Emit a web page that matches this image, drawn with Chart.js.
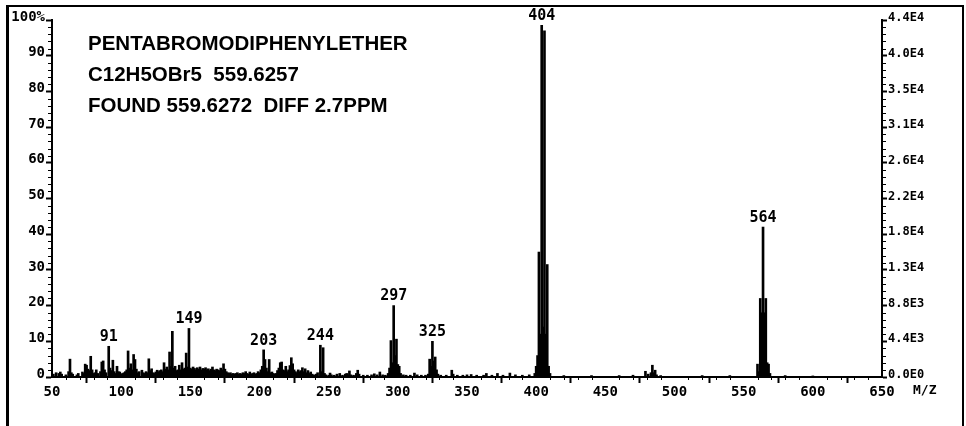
<!DOCTYPE html>
<html>
<head>
<meta charset="utf-8">
<script src="https://cdn.jsdelivr.net/npm/chart.js@4.4.0/dist/chart.umd.min.js"></script>
<style>
  body { margin: 0; background: #fff; }
</style>
</head>
<body>
<canvas id="chart" width="966" height="426"></canvas>
<script>
// m/z values and relative intensity (%) of each line in the spectrum
const massValues = [
  51, 53, 55, 56, 57, 60, 62, 63, 64, 65, 68, 69, 72, 73, 74, 75, 76, 77, 78, 79,
  80, 81, 82, 83, 85, 86, 87, 88, 89, 91, 92, 93, 94, 95, 96, 97, 98, 99, 100,
  101, 102, 103, 104, 105, 106, 107, 108, 109, 110, 111, 112, 113, 115, 116, 117, 118, 119, 120,
  121, 122, 123, 124, 125, 126, 127, 128, 129, 130, 131, 132, 133, 134, 135, 136, 137, 138, 139, 140,
  141, 142, 143, 144, 145, 146, 147, 148, 149, 150,
  151, 152, 153, 154, 155, 156, 157, 158, 159, 160, 161, 162, 163, 164, 165, 166, 167, 168, 169, 170,
  171, 172, 173, 174, 175, 176, 177, 178, 179, 180, 181, 182, 183, 184, 185, 186, 187, 188, 189, 190,
  191, 192, 193, 194, 195, 196, 197, 198, 199, 200,
  201, 202, 203, 204, 205, 206, 207, 208, 209, 210, 211, 212, 213, 214, 215, 216, 217, 218, 219, 220,
  221, 222, 223, 224, 225, 226, 227, 228, 229, 230, 231, 232, 233, 234, 235, 236, 237, 238, 239, 240,
  241, 242, 244, 245, 246, 247, 248, 250,
  251, 252, 254, 256, 258, 260, 262, 263, 264, 265, 266, 268, 270, 271, 272, 275, 278, 281, 283, 285,
  287, 289, 291, 293, 294, 295, 296, 297, 298, 299, 300, 301, 302, 304, 306, 309, 312, 314, 317, 320,
  322, 323, 324, 325, 326, 327, 328, 329, 331, 335, 339, 340, 343, 347, 350, 353, 357, 362, 364, 368,
  372, 376, 381, 385, 390, 395,
  399, 400, 401, 402, 403, 404, 405, 406, 407, 408, 409, 410,
  420, 440, 460, 470, 479, 481, 483, 484, 485, 486, 487, 490, 520, 540,
  560, 561, 562, 563, 564, 565, 566, 567, 568, 569, 580, 600
];
const intensityValues = [
  0.8, 1.2, 1.0, 1.4, 0.8, 0.6, 1.5, 5.0, 1.2, 0.8, 0.6, 1.0, 1.4, 1.0, 3.6, 3.3, 2.2, 1.8, 5.8, 2.0,
  1.0, 1.2, 2.0, 1.0, 1.5, 4.2, 4.5, 2.0, 1.2, 8.6, 2.5, 1.8, 4.7, 1.5, 1.0, 3.0, 1.5, 1.4, 0.8,
  1.0, 1.2, 1.5, 2.0, 7.3, 2.5, 3.7, 2.0, 6.3, 4.9, 2.2, 1.2, 1.5, 1.9, 1.2, 1.0, 1.5, 1.2, 5.1,
  1.8, 2.3, 1.2, 1.0, 1.4, 1.9, 1.5, 1.8, 2.0, 1.5, 4.0, 2.2, 2.8, 2.0, 7.0, 3.0, 12.8, 2.5, 3.0, 1.8,
  2.0, 3.3, 2.0, 4.0, 2.2, 2.5, 6.7, 2.8, 13.6, 2.5,
  2.2, 2.8, 2.4, 2.0, 2.6, 2.2, 2.8, 2.0, 2.4, 2.2, 2.6, 2.0, 2.3, 1.8, 2.2, 2.8, 2.0, 1.8, 2.2, 2.0,
  1.8, 2.5, 2.0, 3.7, 2.2, 1.5, 1.2, 1.0, 1.2, 0.8, 1.0, 0.8, 1.0, 1.2, 0.8, 1.0, 0.8, 1.2, 1.0, 1.5,
  1.0, 0.8, 1.4, 0.8, 1.0, 1.2, 0.8, 1.0, 1.5, 1.2,
  2.0, 3.0, 7.6, 4.9, 2.5, 1.5, 4.9, 1.2, 1.4, 1.0, 0.8, 1.0, 1.8, 2.5, 4.0, 4.2, 2.0, 1.8, 3.0, 1.5,
  2.0, 3.2, 5.4, 3.7, 2.0, 1.5, 1.2, 2.0, 1.5, 1.8, 2.6, 1.5, 2.3, 1.2, 1.8, 1.0, 1.4, 0.8, 0.6, 0.5,
  0.8, 1.2, 8.9, 1.5, 8.2, 1.0, 0.6, 0.5,
  1.1, 0.6, 0.5, 0.8, 1.0, 0.5, 0.8, 1.0, 0.6, 1.7, 0.6, 0.5, 1.0, 1.9, 0.8, 0.5, 0.5, 0.6, 0.9, 0.6,
  1.4, 0.6, 0.5, 1.0, 2.5, 10.2, 4.0, 20.0, 6.0, 10.6, 3.5, 3.0, 1.0, 0.6, 0.5, 0.5, 1.1, 0.6, 0.5, 0.5,
  0.8, 5.0, 3.0, 10.0, 4.5, 5.6, 2.0, 0.8, 0.5, 0.5, 1.9, 0.8, 0.5, 0.5, 0.6, 0.7, 0.5, 0.5, 1.0, 0.5,
  1.0, 0.5, 1.1, 0.6, 0.5, 0.6,
  1.0, 3.0, 6.0, 35.0, 12.0, 98.5, 14.0, 97.0, 12.0, 31.5, 3.0, 1.0,
  0.4, 0.4, 0.4, 0.5, 1.6, 0.8, 1.2, 3.3, 1.2, 1.9, 0.6, 0.4, 0.4, 0.4,
  3.6, 1.5, 22.0, 18.0, 42.0, 18.0, 22.0, 4.0, 3.6, 1.0, 0.4, 0.3
];

// labelled peaks (m/z)
const peakLabels = [91, 149, 203, 244, 297, 325, 404, 564];

const leftTickLabels = ['0', '10', '20', '30', '40', '50', '60', '70', '80', '90', '100%'];
const rightTickLabels = ['0.0E0', '4.4E3', '8.8E3', '1.3E4', '1.8E4', '2.2E4', '2.6E4', '3.1E4', '3.5E4', '4.0E4', '4.4E4'];

const infoLines = [
  'PENTABROMODIPHENYLETHER',
  'C12H5OBr5  559.6257',
  'FOUND 559.6272  DIFF 2.7PPM'
];

const monoFont = '"DejaVu Sans Mono", monospace';

// frame, minor ticks, peak numbers and the compound info
const spectrumDecor = {
  id: 'spectrumDecor',
  afterDraw(chart) {
    const ctx = chart.ctx;
    const xs = chart.scales.x, ys = chart.scales.y, ys2 = chart.scales.y2;
    const area = chart.chartArea;
    ctx.save();
    ctx.strokeStyle = '#000';
    ctx.fillStyle = '#000';

    // outer frame
    ctx.lineWidth = 3;
    ctx.beginPath();
    ctx.moveTo(7.5, 426); ctx.lineTo(7.5, 5.5);
    ctx.stroke();
    ctx.lineWidth = 2;
    ctx.beginPath();
    ctx.moveTo(6, 6); ctx.lineTo(964, 6);
    ctx.moveTo(963, 5); ctx.lineTo(963, 426);
    ctx.stroke();

    // minor ticks
    ctx.lineWidth = 1;
    ctx.beginPath();
    for (let v = 2; v < 100; v += 2) {
      if (v % 10 === 0) continue;
      const py = Math.round(ys.getPixelForValue(v)) + 0.5;
      ctx.moveTo(area.left - 4, py); ctx.lineTo(area.left, py);
    }
    for (let v = 880; v < 44000; v += 880) {
      if (v % 4400 === 0) continue;
      const py = Math.round(ys2.getPixelForValue(v)) + 0.5;
      ctx.moveTo(area.right, py); ctx.lineTo(area.right + 4, py);
    }
    for (let v = 60; v < 650; v += 10) {
      if (v % 50 === 0) continue;
      const px = Math.round(xs.getPixelForValue(v)) + 0.5;
      ctx.moveTo(px, area.bottom); ctx.lineTo(px, area.bottom + 3);
    }
    ctx.stroke();

    // peak numbers
    ctx.font = 'bold 15px ' + monoFont;
    ctx.textAlign = 'center';
    ctx.textBaseline = 'middle';
    peakLabels.forEach(m => {
      const i = massValues.indexOf(m);
      const px = xs.getPixelForValue(m);
      const py = ys.getPixelForValue(intensityValues[i]) - 9;
      ctx.fillText(String(m), px, py);
    });

    // axis unit
    ctx.font = 'bold 13px ' + monoFont;
    ctx.textAlign = 'left';
    ctx.fillText('M/Z', 913, 391);

    // compound info
    ctx.font = 'bold 20.5px "Liberation Sans", Arial, sans-serif';
    ctx.textAlign = 'left';
    const lineY = [44, 75, 106];
    infoLines.forEach((t, i) => ctx.fillText(t, 88, lineY[i]));
    ctx.restore();
  }
};

const axisTicks = {
  color: '#000',
  font: { family: monoFont, size: 14, weight: 'bold' }
};

const chart = new Chart(document.getElementById('chart').getContext('2d'), {
  type: 'bar',
  data: {
    datasets: [{
      data: massValues.map((m, i) => ({ x: m, y: intensityValues[i] })),
      backgroundColor: '#000',
      borderWidth: 0,
      barThickness: 2,
      yAxisID: 'y'
    }]
  },
  options: {
    responsive: false,
    animation: false,
    devicePixelRatio: 1,
    layout: { padding: { top: 20, left: 0, right: 0, bottom: 0 } },
    plugins: {
      legend: { display: false },
      tooltip: { enabled: false }
    },
    scales: {
      x: {
        type: 'linear',
        min: 50,
        max: 650,
        offset: false,
        ticks: { ...axisTicks, stepSize: 50, padding: 1, maxRotation: 0, autoSkip: false },
        grid: { drawOnChartArea: false, drawTicks: true, tickLength: 6, tickColor: '#000', tickWidth: 2 },
        border: { display: true, color: '#000', width: 2 },
        afterFit(s) { s.height = 49; }
      },
      y: {
        position: 'left',
        min: 0,
        max: 100,
        ticks: {
          ...axisTicks,
          stepSize: 10,
          padding: 1,
          labelOffset: -3,
          callback: (v, i) => leftTickLabels[i]
        },
        grid: { drawOnChartArea: false, drawTicks: true, tickLength: 6, tickColor: '#000', tickWidth: 2 },
        border: { display: true, color: '#000', width: 2 },
        afterFit(s) { s.width = 52; }
      },
      y2: {
        position: 'right',
        display: true,
        min: 0,
        max: 44000,
        ticks: {
          color: '#000',
          font: { family: monoFont, size: 12, weight: 'bold' },
          stepSize: 4400,
          padding: 1,
          labelOffset: -2,
          callback: (v, i) => rightTickLabels[i]
        },
        grid: { drawOnChartArea: false, drawTicks: true, tickLength: 5, tickColor: '#000', tickWidth: 2 },
        border: { display: true, color: '#000', width: 2 },
        afterFit(s) { s.width = 84; }
      }
    }
  },
  plugins: [spectrumDecor]
});
</script>
</body>
</html>
